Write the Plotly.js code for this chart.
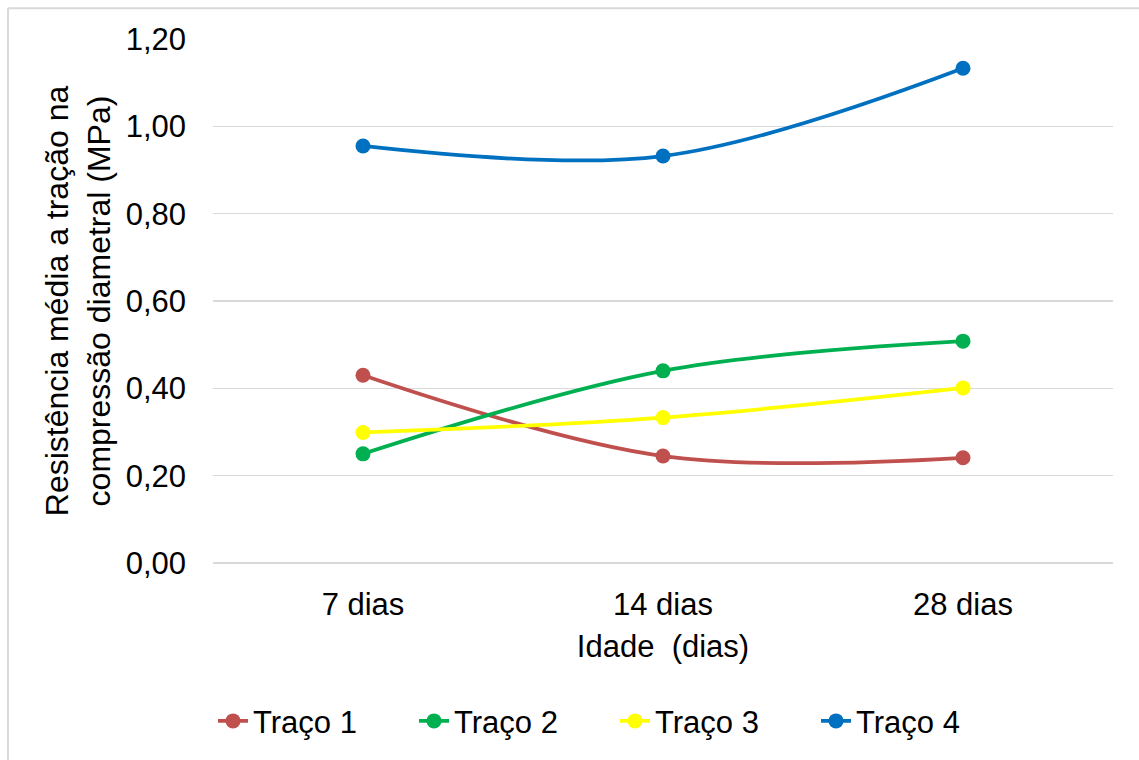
<!DOCTYPE html>
<html>
<head>
<meta charset="utf-8">
<script src="https://cdn.plot.ly/plotly-3.0.1.min.js"></script>
<style>
  html, body { margin: 0; padding: 0; background: #ffffff; }
  #chart { width: 1139px; height: 760px; }
</style>
</head>
<body>
<div id="chart"></div>
<script>
// Ages of the specimens (x categories)
const idades = ['7 dias', '14 dias', '28 dias'];

// Mean splitting tensile strength (MPa) per mix
const traco1 = [0.43, 0.245, 0.241];
const traco2 = [0.25, 0.44, 0.508];
const traco3 = [0.299, 0.333, 0.401];
const traco4 = [0.955, 0.932, 1.133];

const nomes = ['Traço 1', 'Traço 2', 'Traço 3', 'Traço 4'];
const cores = ['#C0504D', '#00B050', '#FFFF00', '#0070C0'];
const series = [traco1, traco2, traco3, traco4];

const FONT = 'Liberation Sans, Arial, sans-serif';

const traces = series.map((vals, i) => ({
  type: 'scatter',
  mode: 'lines+markers',
  name: nomes[i],
  x: idades,
  y: vals,
  line: { color: cores[i], width: 3.75, shape: 'spline', smoothing: 1 },
  marker: { color: cores[i], size: 15 },
  hoverinfo: 'x+y+name'
}));

const layout = {
  width: 1139,
  height: 760,
  margin: { l: 213, r: 26, t: 39, b: 197 },
  paper_bgcolor: '#ffffff',
  plot_bgcolor: '#ffffff',
  font: { family: FONT, size: 30, color: '#000000' },
  showlegend: true,
  legend: {
    orientation: 'h',
    x: 0.0, xanchor: 'left',
    y: -0.302, yanchor: 'middle',
    font: { family: FONT, size: 31, color: '#000000' },
    entrywidth: 156,
    entrywidthmode: 'pixels',
    itemwidth: 30,
    bgcolor: 'rgba(0,0,0,0)'
  },
  xaxis: {
    type: 'category',
    range: [-0.5, 2.5],
    showgrid: false,
    zeroline: false,
    showline: false,
    ticks: '',
    ticklabelstandoff: 20,
    tickfont: { family: FONT, size: 31, color: '#000000' },
    title: { text: 'Idade  (dias)', font: { family: FONT, size: 31, color: '#000000' }, standoff: 14 },
    fixedrange: true
  },
  yaxis: {
    range: [0, 1.2],
    dtick: 0.2,
    tick0: 0,
    tickformat: '.2f',
    showgrid: true,
    gridcolor: '#D9D9D9',
    gridwidth: 1.5,
    zeroline: true,
    zerolinecolor: '#D9D9D9',
    zerolinewidth: 1.5,
    showline: false,
    ticks: '',
    ticklabelstandoff: 26,
    tickfont: { family: FONT, size: 31, color: '#000000' },
    title: {
      text: 'Resistência média a tração na<br>compressão diametral (MPa)',
      font: { family: FONT, size: 32, color: '#000000' },
      standoff: 5
    },
    fixedrange: true
  },
  separators: ',.',
  shapes: [
    // chart-area frame (left and top edges)
    { type: 'line', xref: 'paper', yref: 'paper', x0: -0.2278, x1: -0.2278, y0: 1.0585, y1: -0.4, line: { color: '#D9D9D9', width: 2 } },
    { type: 'line', xref: 'paper', yref: 'paper', x0: -0.2278, x1: 1.05, y0: 1.0585, y1: 1.0585, line: { color: '#D9D9D9', width: 2 } }
  ]
};

Plotly.newPlot('chart', traces, layout, { displayModeBar: false, staticPlot: true });
</script>
</body>
</html>
